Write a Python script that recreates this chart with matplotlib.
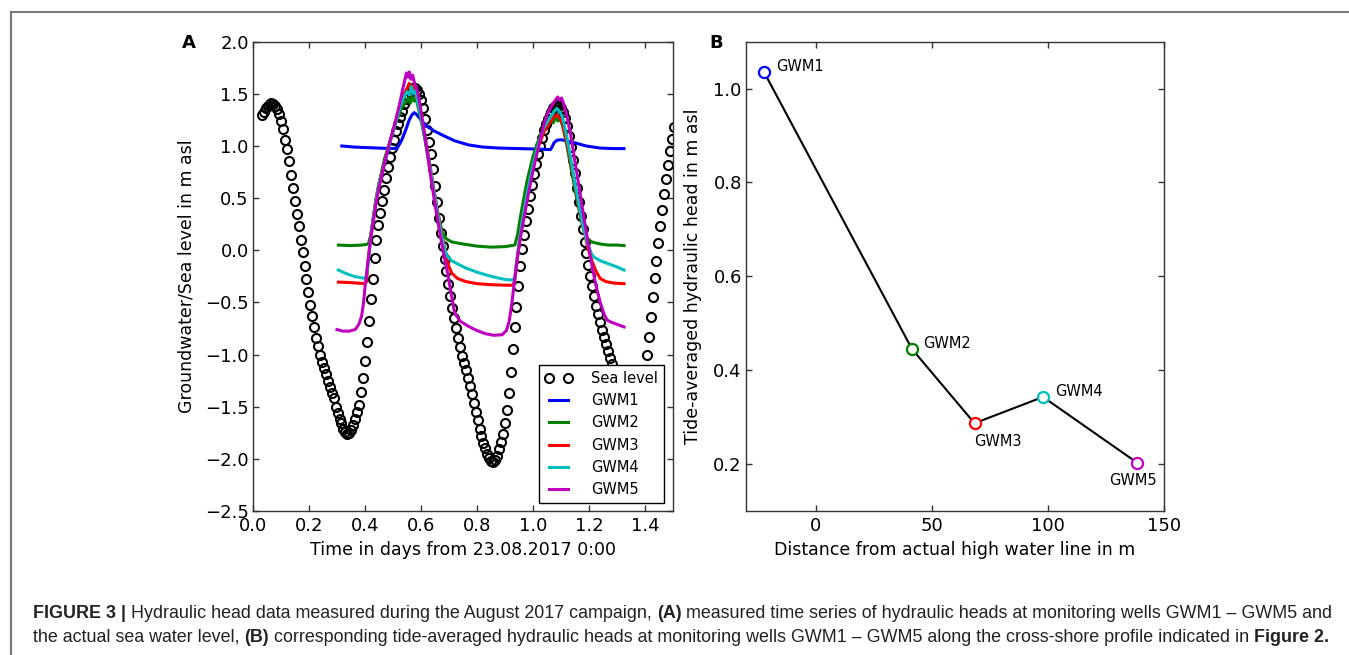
import numpy as np
import matplotlib.pyplot as plt
from matplotlib.lines import Line2D

plt.rcParams['font.family'] = 'DejaVu Sans'

# --- Panel A: sea level, logged every 10 min from 23.08.2017 00:45 ---
sea_start = 0.0313
sea_step = 10 / 1440
sea_level = [
    1.30, 1.33, 1.36, 1.38, 1.40, 1.41, 1.40, 1.38, 1.35, 1.31,
    1.24, 1.16, 1.06, 0.97, 0.86, 0.72, 0.60, 0.47, 0.35, 0.23,
    0.10, -0.02, -0.15, -0.28, -0.40, -0.52, -0.63, -0.74, -0.84, -0.92,
    -1.00, -1.07, -1.13, -1.19, -1.25, -1.31, -1.37, -1.42, -1.50, -1.56,
    -1.62, -1.66, -1.71, -1.74, -1.76,
    -1.75, -1.72, -1.68, -1.62, -1.55, -1.48, -1.36, -1.22, -1.06, -0.88,
    -0.68, -0.47, -0.28, -0.07, 0.10, 0.24, 0.36, 0.47, 0.58, 0.69,
    0.80, 0.89, 0.98, 1.06, 1.14, 1.21, 1.28, 1.34, 1.40, 1.45,
    1.49, 1.52, 1.55, 1.56, 1.56, 1.54, 1.50, 1.44,
    1.36, 1.26, 1.15, 1.04, 0.92, 0.78, 0.62, 0.46, 0.31, 0.17,
    0.04, -0.08, -0.20, -0.32, -0.44, -0.55, -0.65, -0.75, -0.84, -0.93,
    -1.01, -1.08, -1.15, -1.22, -1.30, -1.38, -1.46, -1.55, -1.63, -1.71,
    -1.78, -1.85, -1.90, -1.95, -1.99, -2.02, -2.03, -2.01,
    -1.97, -1.91, -1.84, -1.76, -1.66, -1.53, -1.37, -1.17, -0.95, -0.74,
    -0.54, -0.34, -0.15, 0.01, 0.15, 0.28, 0.40, 0.52, 0.63, 0.73,
    0.83, 0.92, 1.00, 1.08, 1.15, 1.21, 1.26, 1.30, 1.33, 1.36,
    1.38, 1.39, 1.38, 1.36, 1.33,
    1.27, 1.19, 1.10, 0.99, 0.87, 0.74, 0.60, 0.46, 0.33, 0.20,
    0.08, -0.03, -0.14, -0.25, -0.34, -0.44, -0.53, -0.61, -0.69, -0.76,
    -0.83, -0.90, -0.97, -1.03, -1.09, -1.15, -1.21, -1.27, -1.33, -1.39,
    -1.44, -1.49, -1.53, -1.56, -1.58, -1.57, -1.54, -1.49, -1.43, -1.36,
    -1.27, -1.15, -1.00, -0.83, -0.64, -0.45, -0.27, -0.10, 0.07, 0.23,
    0.39, 0.54, 0.68, 0.82, 0.95, 1.07, 1.18,
]
sea_time = sea_start + sea_step * np.arange(len(sea_level))

# groundwater heads (days, m asl)
gwm1_t = [0.317, 0.36, 0.40, 0.45, 0.50, 0.515, 0.53, 0.545, 0.558, 0.568,
          0.576, 0.585, 0.60, 0.62, 0.65, 0.68, 0.72, 0.77, 0.82, 0.88,
          0.95, 1.02, 1.062, 1.068, 1.075, 1.085, 1.10, 1.12, 1.15, 1.19,
          1.24, 1.29, 1.325]
gwm1_h = [1.00, 0.99, 0.985, 0.98, 0.975, 0.98, 1.05, 1.15, 1.25, 1.30,
          1.32, 1.30, 1.25, 1.19, 1.14, 1.10, 1.05, 1.01, 0.99, 0.98,
          0.975, 0.97, 0.965, 0.99, 1.03, 1.055, 1.06, 1.05, 1.03, 1.00,
          0.98, 0.975, 0.975]

gwm2_t = [0.305, 0.35, 0.39, 0.412, 0.42, 0.43, 0.44, 0.45, 0.47, 0.49,
          0.51, 0.53, 0.545, 0.555, 0.562, 0.568, 0.575, 0.582, 0.59, 0.60,
          0.615, 0.63, 0.645, 0.66, 0.675, 0.69, 0.71, 0.75, 0.80, 0.85,
          0.90, 0.935, 0.945, 0.955, 0.965, 0.98, 1.00, 1.02, 1.04, 1.06,
          1.072, 1.08, 1.088, 1.096, 1.105, 1.12, 1.135, 1.15, 1.165, 1.18,
          1.195, 1.21, 1.24, 1.27, 1.30, 1.325]
gwm2_h = [0.05, 0.045, 0.05, 0.06, 0.14, 0.32, 0.50, 0.64, 0.88, 1.05,
          1.22, 1.36, 1.42, 1.46, 1.41, 1.47, 1.43, 1.46, 1.37, 1.25,
          1.05, 0.82, 0.58, 0.36, 0.18, 0.11, 0.08, 0.06, 0.04, 0.03,
          0.035, 0.05, 0.15, 0.32, 0.47, 0.68, 0.90, 1.06, 1.18, 1.25,
          1.22, 1.28, 1.24, 1.26, 1.20, 1.02, 0.80, 0.58, 0.38, 0.20,
          0.11, 0.08, 0.06, 0.05, 0.05, 0.045]

gwm3_t = [0.305, 0.35, 0.40, 0.406, 0.41, 0.42, 0.43, 0.44, 0.45, 0.465,
          0.48, 0.495, 0.51, 0.525, 0.54, 0.55, 0.558, 0.565, 0.572, 0.58,
          0.59, 0.60, 0.615, 0.63, 0.645, 0.66, 0.675, 0.69, 0.70, 0.71,
          0.73, 0.76, 0.80, 0.85, 0.90, 0.928, 0.935, 0.94, 0.95, 0.96,
          0.98, 1.00, 1.02, 1.04, 1.06, 1.075, 1.085, 1.095, 1.105, 1.12,
          1.135, 1.15, 1.165, 1.18, 1.195, 1.21, 1.225, 1.24, 1.26, 1.29,
          1.325]
gwm3_h = [-0.305, -0.31, -0.32, -0.30, -0.13, 0.12, 0.32, 0.50, 0.64, 0.80,
          0.95, 1.10, 1.24, 1.38, 1.50, 1.55, 1.60, 1.52, 1.58, 1.50,
          1.42, 1.30, 1.08, 0.85, 0.60, 0.36, 0.14, -0.05, -0.16, -0.22,
          -0.27, -0.30, -0.32, -0.33, -0.335, -0.335, -0.30, -0.18, 0.05, 0.25,
          0.55, 0.80, 1.00, 1.14, 1.22, 1.28, 1.30, 1.27, 1.22, 1.05,
          0.85, 0.62, 0.40, 0.22, 0.03, -0.10, -0.20, -0.27, -0.30, -0.315,
          -0.32]

gwm4_t = [0.305, 0.33, 0.36, 0.39, 0.403, 0.408, 0.415, 0.42, 0.43, 0.44,
          0.45, 0.465, 0.48, 0.495, 0.51, 0.525, 0.54, 0.55, 0.558, 0.565,
          0.572, 0.58, 0.59, 0.60, 0.615, 0.63, 0.645, 0.66, 0.675, 0.685,
          0.695, 0.71, 0.73, 0.76, 0.80, 0.85, 0.90, 0.925, 0.935, 0.94,
          0.95, 0.96, 0.98, 1.00, 1.02, 1.04, 1.06, 1.075, 1.085, 1.095,
          1.105, 1.12, 1.135, 1.15, 1.165, 1.18, 1.195, 1.21, 1.22, 1.24,
          1.27, 1.30, 1.325]
gwm4_h = [-0.19, -0.22, -0.25, -0.265, -0.27, -0.20, -0.03, 0.11, 0.31, 0.49,
          0.63, 0.79, 0.94, 1.09, 1.23, 1.37, 1.47, 1.52, 1.49, 1.57,
          1.50, 1.53, 1.40, 1.28, 1.06, 0.83, 0.58, 0.34, 0.12, 0.0,
          -0.06, -0.10, -0.13, -0.17, -0.21, -0.25, -0.28, -0.285, -0.27, -0.15,
          0.06, 0.26, 0.56, 0.82, 1.03, 1.18, 1.27, 1.33, 1.36, 1.33,
          1.28, 1.10, 0.88, 0.64, 0.42, 0.22, 0.06, -0.04, -0.07, -0.10,
          -0.13, -0.16, -0.19]

gwm5_t = [0.300, 0.32, 0.345, 0.365, 0.378, 0.388, 0.395, 0.40, 0.41, 0.42,
          0.43, 0.44, 0.45, 0.465, 0.48, 0.495, 0.51, 0.525, 0.535, 0.542,
          0.548, 0.553, 0.558, 0.564, 0.57, 0.577, 0.585, 0.595, 0.605, 0.62,
          0.635, 0.65, 0.665, 0.68, 0.695, 0.71, 0.72, 0.74, 0.77, 0.80,
          0.83, 0.86, 0.89, 0.905, 0.915, 0.925, 0.935, 0.945, 0.955, 0.97,
          0.985, 1.00, 1.02, 1.04, 1.055, 1.07, 1.08, 1.088, 1.095, 1.102,
          1.11, 1.12, 1.135, 1.15, 1.165, 1.18, 1.195, 1.21, 1.225, 1.24,
          1.255, 1.265, 1.28, 1.30, 1.325]
gwm5_h = [-0.76, -0.775, -0.775, -0.76, -0.71, -0.63, -0.50, -0.35, -0.12, 0.10,
          0.28, 0.46, 0.60, 0.78, 0.95, 1.10, 1.25, 1.42, 1.55, 1.63,
          1.70, 1.66, 1.71, 1.64, 1.68, 1.60, 1.55, 1.42, 1.25, 0.98,
          0.70, 0.44, 0.20, -0.02, -0.22, -0.45, -0.60, -0.68, -0.73, -0.77,
          -0.80, -0.815, -0.81, -0.77, -0.68, -0.50, -0.26, -0.05, 0.12, 0.34,
          0.56, 0.76, 1.00, 1.22, 1.33, 1.40, 1.44, 1.47, 1.44, 1.46,
          1.40, 1.30, 1.10, 0.85, 0.60, 0.34, 0.10, -0.14, -0.34, -0.50,
          -0.62, -0.67, -0.69, -0.71, -0.735]

wells = ['GWM1', 'GWM2', 'GWM3', 'GWM4', 'GWM5']
well_colors = ['b', 'g', 'r', 'c', 'm']

# --- Panel B: tide-averaged heads ---
well_dist = [-22.2, 41.5, 68.4, 97.9, 138.4]
well_head = [1.035, 0.445, 0.287, 0.343, 0.203]

W, H = 1349, 655
fig = plt.figure(figsize=(W / 100, H / 100), dpi=100)

def px_axes(x0, x1, y0, y1):
    return fig.add_axes([x0 / W, 1 - y1 / H, (x1 - x0) / W, (y1 - y0) / H])

axA = px_axes(253, 673, 41.7, 511)
axB = px_axes(746, 1164, 41.7, 511)

axA.plot(sea_time, sea_level, 'o', mfc='none', mec='k', ms=6.5, mew=1.5,
         label='Sea level')
series = [(gwm1_t, gwm1_h), (gwm2_t, gwm2_h), (gwm3_t, gwm3_h),
          (gwm4_t, gwm4_h), (gwm5_t, gwm5_h)]
for (t, h), name, c in zip(series, wells, well_colors):
    axA.plot(t, h, '-', color=c, lw=2.2, label=name)

axA.set_xlim(0, 1.5)
axA.set_ylim(-2.5, 2.0)
axA.set_xticks(np.arange(0, 1.41, 0.2))
axA.set_yticks(np.arange(-2.5, 2.01, 0.5))
axA.set_xlabel('Time in days from 23.08.2017 0:00', fontsize=12.5)
axA.set_ylabel('Groundwater/Sea level in m asl', fontsize=12.5)
axA.xaxis.set_label_coords(0.5, -0.064)
axA.yaxis.set_label_coords(-0.138, 0.5)
leg = axA.legend(loc='lower right', bbox_to_anchor=(0.979, 0.017), borderaxespad=0,
                 numpoints=2, fancybox=False, framealpha=1, edgecolor='k',
                 fontsize=10.5, handlelength=1.9, handletextpad=1.3,
                 labelspacing=0.5, borderpad=0.4)
leg.get_frame().set_linewidth(1.0)

axB.plot(well_dist, well_head, '-', color='k', lw=1.5, zorder=2)
for x, y, name, c in zip(well_dist, well_head, wells, well_colors):
    axB.plot(x, y, 'o', mfc='white', mec=c, ms=8, mew=1.6, zorder=3)
label_offsets = [(8.6, 4.3, 'left'), (8, 4.3, 'left'), (0, -13.5, 'left'),
                 (8.6, 3.6, 'left'), (-3, -13, 'center')]
for x, y, name, (dx, dy, ha) in zip(well_dist, well_head, wells, label_offsets):
    axB.annotate(name, (x, y), xytext=(dx, dy), textcoords='offset points',
                 ha=ha, va='center', fontsize=10.5)
axB.set_xlim(-30, 150)
axB.set_ylim(0.1, 1.1)
axB.set_xticks([0, 50, 100, 150])
axB.set_yticks([0.2, 0.4, 0.6, 0.8, 1.0])
axB.set_xlabel('Distance from actual high water line in m', fontsize=12.5)
axB.set_ylabel('Tide-averaged hydraulic head in m asl', fontsize=12.5)
axB.xaxis.set_label_coords(0.5, -0.064)
axB.yaxis.set_label_coords(-0.105, 0.5)

for ax in (axA, axB):
    ax.tick_params(direction='in', top=True, right=True, length=4, width=1,
                   labelsize=13, color='#333333')
    ax.tick_params(axis='x', pad=4)
    ax.tick_params(axis='y', pad=3)
    for s in ax.spines.values():
        s.set_color('#333333')
        s.set_linewidth(1.0)

fig.text(189 / W, 1 - 43 / H, 'A', fontsize=13, fontweight='bold', ha='center', va='center')
fig.text(716 / W, 1 - 43 / H, 'B', fontsize=13, fontweight='bold', ha='center', va='center')

# page frame
fig.add_artist(Line2D([11 / W, 11 / W], [0, 1 - 12 / H], transform=fig.transFigure,
                      color='#777777', lw=1.5))
fig.add_artist(Line2D([11 / W, 1], [1 - 12 / H, 1 - 12 / H], transform=fig.transFigure,
                      color='#777777', lw=1.5))

# caption
cap = fig.add_axes([0, 0, 1, 1])
cap.axis('off')
cap.set_xlim(0, W)
cap.set_ylim(H, 0)
cap_lines = [
    [('FIGURE 3', 'bold'), (' | ', 'bold'),
     ('Hydraulic head data measured during the August 2017 campaign, ', 'normal'),
     ('(A)', 'bold'),
     (' measured time series of hydraulic heads at monitoring wells GWM1 \u2013 GWM5 and', 'normal')],
    [('the actual sea water level, ', 'normal'), ('(B)', 'bold'),
     (' corresponding tide-averaged hydraulic heads at monitoring wells GWM1 \u2013 GWM5 along the cross-shore profile indicated in ', 'normal'),
     ('Figure 2.', 'bold')],
]
cap_y = [618, 642]
for pieces, y in zip(cap_lines, cap_y):
    prev = None
    for s, w in pieces:
        kw = dict(fontsize=12.9, fontweight=w, color='#222222',
                  family='Liberation Sans', ha='left')
        if prev is None:
            prev = cap.text(33, y, s, va='baseline', **kw)
        else:
            prev = cap.annotate(s, xy=(1, 0), xycoords=prev, va='bottom', **kw)

fig.savefig('out.png', dpi=100)
